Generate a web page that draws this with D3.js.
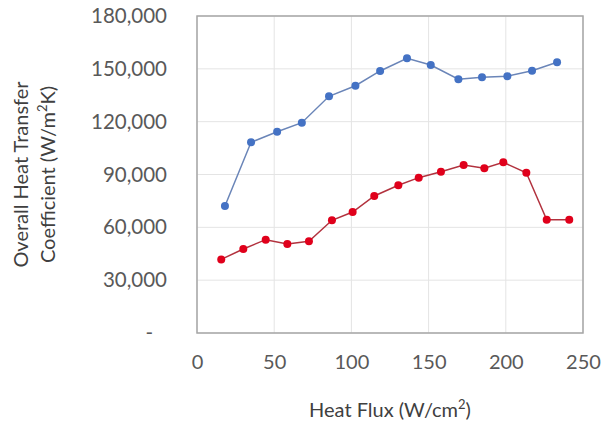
<!DOCTYPE html>
<html>
<head>
<meta charset="utf-8">
<script src="https://cdn.jsdelivr.net/npm/d3@7"></script>
<style>
  body { margin: 0; background: #fff; }
  text { font-family: Lato, "Open Sans", sans-serif; }
</style>
</head>
<body>
<div id="chart"></div>
<script>
// heat flux (W/cm2) vs overall heat transfer coefficient (W/m2K)
const blueFlux = [18.1, 35.0, 51.9, 67.9, 85.5, 102.6, 118.6, 136.0, 151.4, 169.3, 184.6, 201.0, 217.0, 233.2];
const blueHtc = [72100, 108300, 114300, 119400, 134400, 140400, 148800, 156000, 152200, 144100, 145200, 145800, 148900, 153700];

const redFlux = [15.7, 30.0, 44.5, 58.5, 72.5, 87.4, 100.8, 114.8, 130.4, 143.6, 158.0, 172.7, 186.1, 198.4, 213.3, 226.5, 241.1];
const redHtc = [41800, 47700, 53000, 50500, 52100, 64000, 68700, 77800, 83900, 88200, 91600, 95400, 93500, 96900, 91000, 64300, 64300];

const xTicks = [0, 50, 100, 150, 200, 250];
const yTicks = [0, 30000, 60000, 90000, 120000, 150000, 180000];

const W = 611, H = 426;
const margin = {top: 16, right: 28, bottom: 93, left: 197};

const svg = d3.select("#chart")
    .append("svg")
        .attr("width", W)
        .attr("height", H);

const x = d3.scaleLinear()
    .domain([0, 250])
    .range([margin.left, W - margin.right]);
const y = d3.scaleLinear()
    .domain([0, 180000])
    .range([H - margin.bottom, margin.top]);

// gridlines
svg.append("g")
    .attr("stroke", "#e4e4e4")
    .attr("stroke-width", 1)
    .call(g => g.selectAll(".gx").data(xTicks).join("line")
        .attr("x1", d => x(d)).attr("x2", d => x(d))
        .attr("y1", y(0)).attr("y2", y(180000)))
    .call(g => g.selectAll(".gy").data(yTicks).join("line")
        .attr("x1", x(0)).attr("x2", x(250))
        .attr("y1", d => y(d)).attr("y2", d => y(d)));

// plot frame
svg.append("rect")
    .attr("x", x(0))
    .attr("y", y(180000))
    .attr("width", x(250) - x(0))
    .attr("height", y(0) - y(180000))
    .attr("fill", "none")
    .attr("stroke", "#a6a6a6")
    .attr("stroke-width", 1.5);

// axes (labels only, Excel-style)
const fmt = d => d === 0 ? "-" : d3.format(",")(d);
svg.append("g")
    .attr("transform", `translate(${x(0) - 30},0)`)
    .call(d3.axisLeft(y).tickValues(yTicks).tickFormat(fmt).tickSize(0).tickPadding(0))
    .call(g => g.select(".domain").remove())
    .call(g => g.selectAll("text")
        .attr("font-size", 20.5)
        .attr("fill", "#595959")
        .attr("font-family", "Lato, sans-serif")
        .attr("dx", d => d === 0 ? -14 : 0));

svg.append("g")
    .attr("transform", `translate(0,${y(0) + 22})`)
    .call(d3.axisBottom(x).tickValues(xTicks).tickSize(0).tickPadding(0))
    .call(g => g.select(".domain").remove())
    .call(g => g.selectAll("text")
        .attr("font-size", 20)
        .attr("fill", "#595959")
        .attr("font-family", "Lato, sans-serif"));

// axis titles
const xTitle = svg.append("text")
    .attr("x", (x(0) + x(250)) / 2)
    .attr("y", 417)
    .attr("text-anchor", "middle")
    .attr("font-size", 20)
    .attr("fill", "#404040");
xTitle.append("tspan").text("Heat Flux (W/cm");
xTitle.append("tspan").attr("baseline-shift", "super").attr("font-size", 13).text("2");
xTitle.append("tspan").text(")");

const yTitle = svg.append("text")
    .attr("transform", `translate(0,${(y(0) + y(180000)) / 2}) rotate(-90)`)
    .attr("text-anchor", "middle")
    .attr("font-size", 20)
    .attr("fill", "#404040");
yTitle.append("tspan").attr("x", 0).attr("y", 28).text("Overall Heat Transfer");
yTitle.append("tspan").attr("x", 0).attr("y", 55).text("Coefficient (W/m");
yTitle.append("tspan").attr("baseline-shift", "super").attr("font-size", 13).text("2");
yTitle.append("tspan").text("K)");

// series
const line = d3.line()
    .x(d => x(d[0]))
    .y(d => y(d[1]));

function drawSeries(xs, ys, lineColor, dotColor) {
    const pts = d3.zip(xs, ys);
    svg.append("path")
        .datum(pts)
        .attr("d", line)
        .attr("fill", "none")
        .attr("stroke", lineColor)
        .attr("stroke-width", 1.5);
    svg.append("g")
        .selectAll("circle")
        .data(pts)
        .join("circle")
            .attr("cx", d => x(d[0]))
            .attr("cy", d => y(d[1]))
            .attr("r", 4)
            .attr("fill", dotColor);
}

drawSeries(blueFlux, blueHtc, "#6a85b8", "#4472c4");
drawSeries(redFlux, redHtc, "#b2323e", "#e0001b");
</script>
</body>
</html>
